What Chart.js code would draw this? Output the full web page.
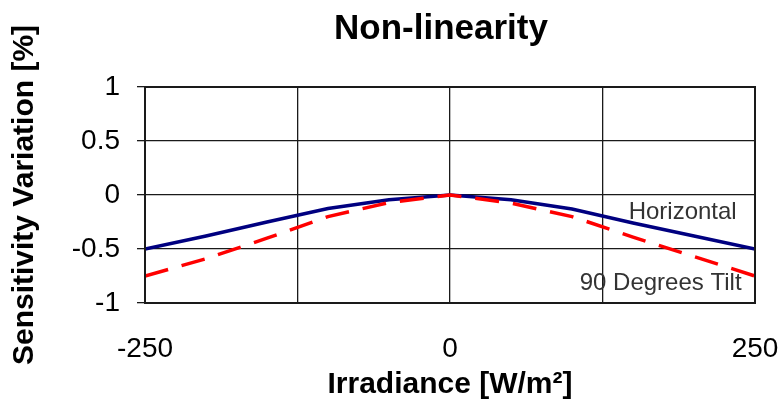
<!DOCTYPE html>
<html>
<head>
<meta charset="utf-8">
<script src="https://cdn.jsdelivr.net/npm/chart.js@4"></script>
<style>
  html, body { margin: 0; padding: 0; background: #ffffff; }
  #wrap { width: 783px; height: 403px; }
</style>
</head>
<body>
<div id="wrap"><canvas id="c" width="783" height="403"></canvas></div>
<script>
// ---- data ----
const irradiance = [-250, -200, -150, -100, -50, 0, 50, 100, 150, 200, 250];
const horizontal = [-0.5, -0.38, -0.25, -0.125, -0.045, 0, -0.045, -0.13, -0.26, -0.38, -0.5];
const tilt90     = [-0.75, -0.59, -0.40, -0.2, -0.07, 0, -0.075, -0.2, -0.39, -0.57, -0.75];
const xTickLabels = ['-250', '0', '250'];
const yTickLabels = ['1', '0.5', '0', '-0.5', '-1'];
const seriesNames = ['Horizontal', '90 Degrees Tilt'];
const chartTitle = 'Non-linearity';
const xTitle = 'Irradiance [W/m²]';
const yTitle = 'Sensitivity Variation [%]';

const FONT = "'Liberation Sans', Arial, sans-serif";

const toXY = (xs, ys) => xs.map((x, i) => ({x: x, y: ys[i]}));

// inline labels near the line ends (data coordinates)
const inlineLabels = [
  {text: seriesNames[0], x: 235, y: -0.165},
  {text: seriesNames[1], x: 239, y: -0.82}
];

const frameAndLabels = {
  id: 'frameAndLabels',
  afterDatasetsDraw(chart) {
    const {ctx, chartArea: a, scales} = chart;
    ctx.save();
    // chart title, centred a little left of the plot centre as in the reference
    ctx.font = 'bold 35px ' + FONT;
    ctx.fillStyle = '#000000';
    ctx.textAlign = 'center';
    ctx.textBaseline = 'alphabetic';
    ctx.fillText(chartTitle, (a.left + a.right) / 2 - 9, a.top - 48);
    // inline series labels
    ctx.font = '24px ' + FONT;
    ctx.fillStyle = '#333333';
    ctx.textAlign = 'right';
    ctx.textBaseline = 'middle';
    inlineLabels.forEach(l => {
      ctx.fillText(l.text, scales.x.getPixelForValue(l.x), scales.y.getPixelForValue(l.y));
    });
    // plot frame
    ctx.strokeStyle = '#1a1a1a';
    ctx.lineWidth = 2;
    ctx.strokeRect(a.left, a.top, a.right - a.left, a.bottom - a.top);
    ctx.restore();
  }
};

new Chart(document.getElementById('c'), {
  type: 'line',
  data: {
    datasets: [
      {
        label: seriesNames[1],
        data: toXY(irradiance, tilt90),
        borderColor: '#ff0000',
        borderWidth: 3.5,
        borderDash: [24, 14],
        pointRadius: 0,
        tension: 0,
        fill: false
      },
      {
        label: seriesNames[0],
        data: toXY(irradiance, horizontal),
        borderColor: '#000080',
        borderWidth: 3.5,
        pointRadius: 0,
        tension: 0,
        fill: false
      }
    ]
  },
  options: {
    responsive: false,
    animation: false,
    layout: { padding: { left: 0, right: 28, top: 87, bottom: 0 } },
    plugins: {
      legend: { display: false },
      tooltip: { enabled: false },
      title: { display: false }
    },
    scales: {
      x: {
        type: 'linear',
        min: -250,
        max: 250,
        afterFit: s => { s.height = 100; s.paddingLeft = 0; s.paddingRight = 0; },
        afterBuildTicks: s => { s.ticks = [-250, -125, 0, 125, 250].map(v => ({value: v})); },
        ticks: {
          autoSkip: false,
          maxRotation: 0,
          color: '#000000',
          font: { family: FONT, size: 28 },
          padding: 29,
          callback: (v) => xTickLabels.includes(String(v)) ? String(v) : ''
        },
        grid: { color: '#1a1a1a', lineWidth: 1.3, drawTicks: false },
        border: { display: false },
        title: {
          display: true,
          text: xTitle,
          color: '#000000',
          font: { family: FONT, size: 30, weight: 'bold', lineHeight: 1.2 },
          padding: { top: 0, bottom: 0 }
        }
      },
      y: {
        type: 'linear',
        min: -1,
        max: 1,
        afterFit: s => { s.width = 145; s.paddingTop = 0; s.paddingBottom = 0; },
        afterBuildTicks: s => { s.ticks = [-1, -0.5, 0, 0.5, 1].map(v => ({value: v})); },
        ticks: {
          autoSkip: false,
          color: '#000000',
          font: { family: FONT, size: 28 },
          padding: 17,
          callback: (v) => { const t = String(v); return yTickLabels.includes(t) ? t : ''; }
        },
        grid: { color: '#1a1a1a', lineWidth: 1.3, drawTicks: true, tickLength: 8, tickColor: '#1a1a1a' },
        border: { display: false },
        title: {
          display: true,
          text: yTitle,
          color: '#000000',
          font: { family: FONT, size: 30, weight: 'bold', lineHeight: 1.2 },
          padding: { top: 7, bottom: 0 }
        }
      }
    }
  },
  plugins: [frameAndLabels]
});
</script>
</body>
</html>
